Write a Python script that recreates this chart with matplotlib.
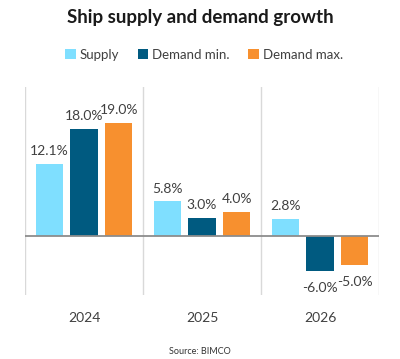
import matplotlib.pyplot as plt
import numpy as np

plt.rcParams['font.family'] = ['Lato', 'DejaVu Sans']

years = ["2024", "2025", "2026"]
series = ["Supply", "Demand min.", "Demand max."]
supply = [12.1, 5.8, 2.8]
demand_min = [18.0, 3.0, -6.0]
demand_max = [19.0, 4.0, -5.0]
colors = ["#7fdfff", "#005a80", "#f7902f"]

fig = plt.figure(figsize=(4.0, 3.59), dpi=100)
ax = fig.add_axes([0.0625, 0.178, 0.885, 0.58])

x = np.arange(len(years))
width = 0.23
step = 0.295
for i, (name, vals) in enumerate(zip(series, [supply, demand_min, demand_max])):
    pos = x + (i - 1) * step
    ax.bar(pos, vals, width, color=colors[i], label=name, zorder=2)
    for p, v in zip(pos, vals):
        off = 9 if v >= 0 else -12
        ax.annotate(f"{v:.1f}%", (p, v), xytext=(0, off), textcoords="offset points",
                    ha="center", va="center", fontsize=10, color="#404040")

ax.set_xlim(-0.5, len(years) - 0.5)
ax.set_ylim(-10, 25)
for b in np.arange(-0.5, len(years), 1.0):
    ax.axvline(b, color="#d9d9d9", lw=1, zorder=1)
ax.axhline(0, color="#8c8c8c", lw=1.3, zorder=3)

for s in ax.spines.values():
    s.set_visible(False)
ax.set_yticks([])
ax.set_xticks(x)
ax.set_xticklabels(years, fontsize=10, color="#404040")
ax.tick_params(axis="x", length=0, pad=12)

fig.text(0.5, 0.952, "Ship supply and demand growth", ha="center", va="center",
         fontsize=13.5, fontweight="bold", color="#1a1a1a")
fig.legend(loc="center", bbox_to_anchor=(0.51, 0.847), ncol=3, frameon=False,
           fontsize=9.5, handlelength=0.8, handleheight=0.8, handletextpad=0.3,
           columnspacing=1.4, labelcolor="#404040")
fig.text(0.5, 0.02, "Source: BIMCO", ha="center", va="center", fontsize=6.5,
         color="#333333")

fig.savefig("out.png", dpi=100)
